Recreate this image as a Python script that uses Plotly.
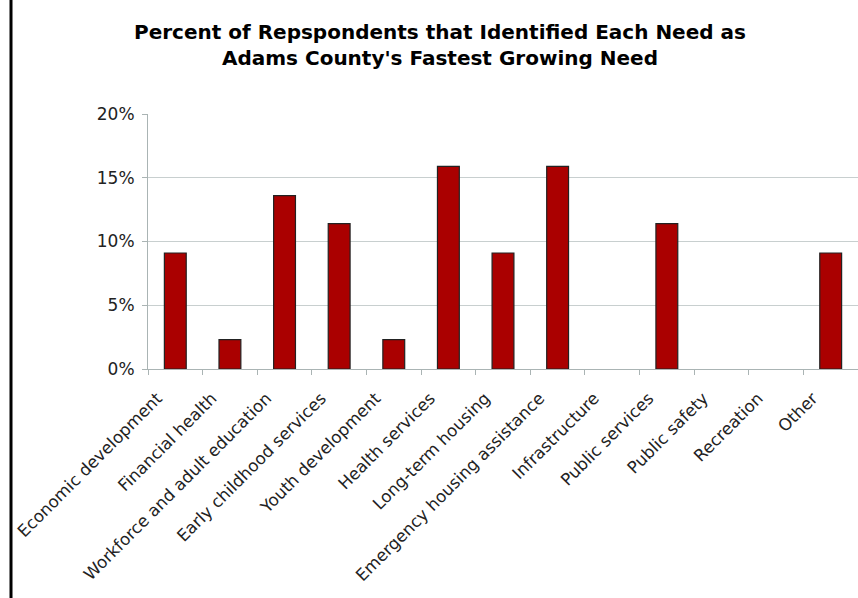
import plotly.graph_objects as go

categories = [
    "Economic development", "Financial health", "Workforce and adult education",
    "Early childhood services", "Youth development", "Health services",
    "Long-term housing", "Emergency housing assistance", "Infrastructure",
    "Public services", "Public safety", "Recreation", "Other",
]
percent = [9.1, 2.3, 13.6, 11.4, 2.3, 15.9, 9.1, 15.9, 0, 11.4, 0, 0, 9.1]
y_ticks = [0, 5, 10, 15, 20]
y_tick_labels = ["0%", "5%", "10%", "15%", "20%"]
title_text = ("<b>Percent of Repspondents that Identified Each Need as<br>"
              "Adams County's Fastest Growing Need</b>")

W, H = 858, 598
L, R, T, B = 148, 0, 114, 229
plot_h = H - T - B

# no outline on empty bars
outline_widths = [1.2 if v > 0 else 0 for v in percent]

fig = go.Figure(go.Bar(
    x=categories, y=percent,
    marker=dict(color="#aa0000", line=dict(color="#222222", width=outline_widths)),
))

fig.update_layout(
    width=W, height=H,
    margin=dict(l=L, r=R, t=T, b=B),
    paper_bgcolor="white", plot_bgcolor="white",
    bargap=0.6,
    showlegend=False,
    font=dict(family="DejaVu Sans", color="#222222"),
    xaxis=dict(
        tickangle=-45, tickfont=dict(size=16.7),
        showline=True, linecolor="#aab4b4", linewidth=1,
        ticks="outside", tickson="boundaries", ticklen=5, tickcolor="#aab4b4",
        ticklabelstandoff=12, ticklabelshift=-18,
        showgrid=False,
    ),
    yaxis=dict(
        range=[0, 20], tickvals=y_ticks, ticktext=y_tick_labels,
        tickfont=dict(size=17),
        showline=True, linecolor="#aab4b4", linewidth=1,
        gridcolor="#c8cfcf", gridwidth=1,
        ticks="outside", ticklen=5, tickcolor="#aab4b4",
        ticklabelstandoff=4,
        zeroline=False,
    ),
)

# Two-line chart title
fig.add_annotation(
    text=title_text, xref="paper", yref="paper",
    x=(440 - L) / (W - L - R), y=(H - B - 45) / plot_h,
    xanchor="center", yanchor="middle", showarrow=False,
    font=dict(size=20, color="black", family="DejaVu Sans"),
)

# Black rule on the left edge of the page
x_paper = (11 - L) / (W - L - R)
fig.add_shape(type="line", xref="paper", yref="paper",
              x0=x_paper, x1=x_paper, y0=-B / plot_h, y1=(H - B) / plot_h,
              line=dict(color="black", width=3))

fig.write_html("out.html")
